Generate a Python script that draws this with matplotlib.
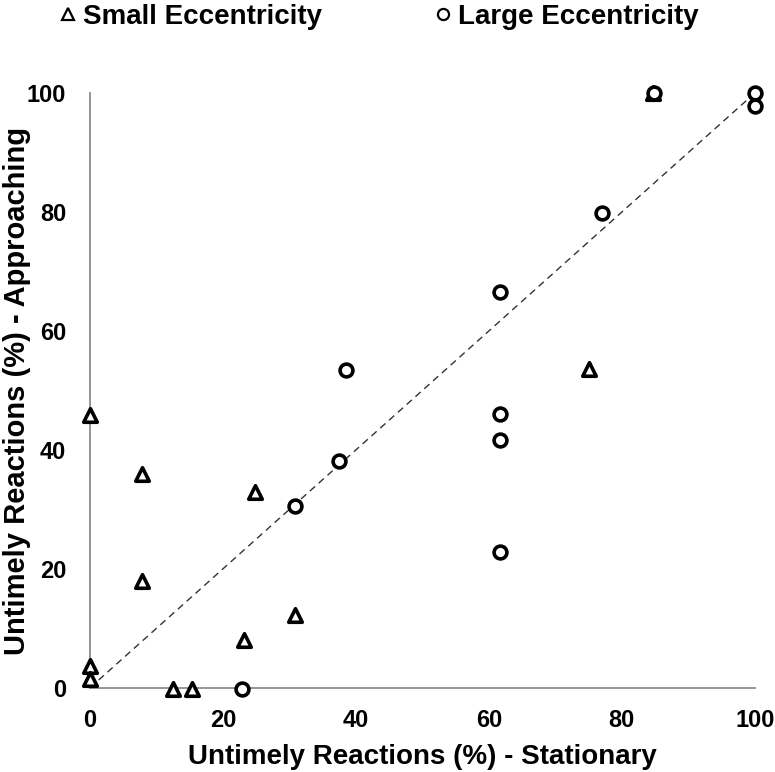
import matplotlib
matplotlib.use("Agg")
import matplotlib.pyplot as plt
from matplotlib.lines import Line2D

plt.rcParams['font.family'] = ['Liberation Sans', 'DejaVu Sans']

small_x = [0, 7.8, 24.9, 7.8, 30.9, 23.1, 0, 0, 12.5, 15.4, 75.1, 84.7]
small_y = [45.8, 36.0, 32.9, 17.9, 12.2, 8.1, 3.6, 1.5, -0.2, -0.2, 53.6, 100]

large_x = [22.8, 30.8, 37.4, 38.5, 61.7, 61.7, 61.7, 61.7, 77.0, 84.8, 100, 100]
large_y = [-0.2, 30.5, 38.1, 53.5, 66.6, 46.1, 41.6, 22.8, 79.8, 100, 100, 97.9]

ticks = [0, 20, 40, 60, 80, 100]

fig = plt.figure(figsize=(7.75, 7.72), dpi=100)
ax = fig.add_axes([0.116, 0.109, 0.858, 0.7705])

ax.plot([0, 100], [0, 100], ls=(0, (5, 3.5)), color='#333333', lw=1.0, zorder=1)
ax.scatter(small_x, small_y, marker='^', s=95, facecolors='white', edgecolors='black',
           linewidths=2.6, zorder=3, clip_on=False)
ax.scatter(large_x, large_y, marker='o', s=85, facecolors='white', edgecolors='black',
           linewidths=2.6, zorder=3, clip_on=False)

ax.set_xlim(0, 100)
ax.set_ylim(0, 100)
ax.set_xticks(ticks)
ax.set_yticks(ticks)
ax.tick_params(length=0, labelsize=17)
ax.tick_params(axis='x', pad=15)
ax.tick_params(axis='y', pad=17)
for lab in ax.get_xticklabels() + ax.get_yticklabels():
    lab.set_fontweight('bold')

for s in ['top', 'right']:
    ax.spines[s].set_visible(False)
for s in ['left', 'bottom']:
    ax.spines[s].set_color('#8c8c8c')
    ax.spines[s].set_linewidth(1.3)

ax.set_xlabel('Untimely Reactions (%) - Stationary', fontsize=20, fontweight='bold', labelpad=9)
ax.set_ylabel('Untimely Reactions (%) - Approaching', fontsize=21, fontweight='bold')
ax.yaxis.set_label_coords(-0.088, 0.5)

handles = [Line2D([], [], ls='none', marker='^', markersize=8, mfc='white', mec='black', mew=1.6),
           Line2D([], [], ls='none', marker='o', markersize=8, mfc='white', mec='black', mew=1.6)]
fig.legend(handles, ['Small Eccentricity', 'Large Eccentricity'], loc='upper left',
           bbox_to_anchor=(60 / 775, 1.0 - 4 / 772), ncol=2, frameon=False,
           prop={'size': 20, 'weight': 'bold'}, borderpad=0, borderaxespad=0,
           handlelength=0.6, handletextpad=0.24, columnspacing=4.03)

fig.savefig('out.png', dpi=100)
